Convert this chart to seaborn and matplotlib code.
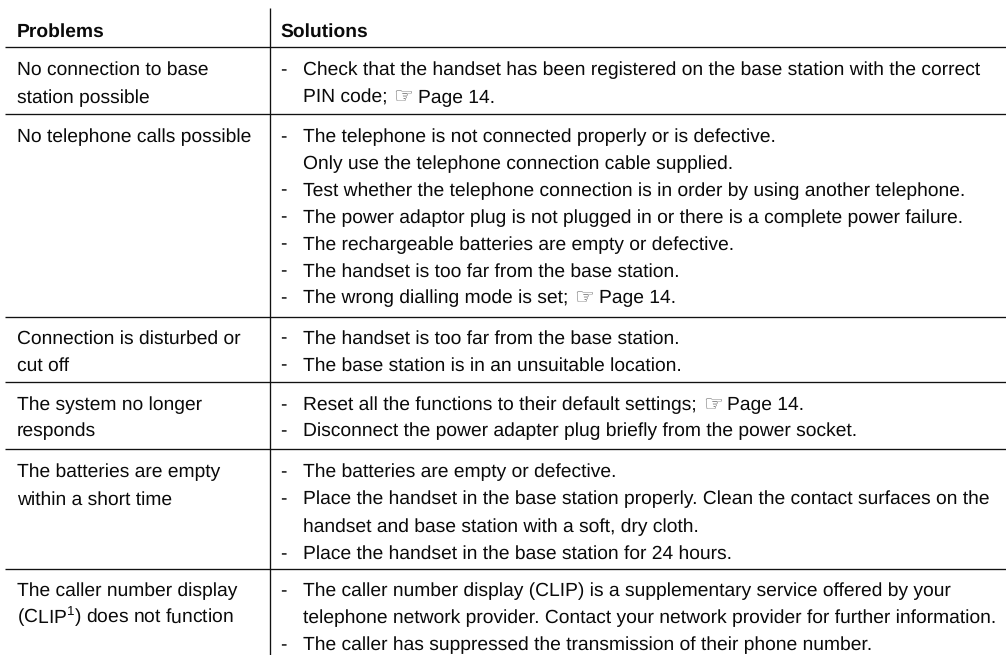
import matplotlib
matplotlib.use("Agg")
import matplotlib.pyplot as plt
import seaborn as sns

HAND = "\u261e"

headers = ["Problems", "Solutions"]

problems = [
    ["No connection to base", "station possible"],
    ["No telephone calls possible"],
    ["Connection is disturbed or", "cut off"],
    ["The system no longer", "responds"],
    ["The batteries are empty", "within a short time"],
    ["The caller number display", "(CLIP$^{1}$) does not function"],
]

# A leading "- " marks a bullet line, otherwise the line continues the bullet above.
solutions = [
    ["- Check that the handset has been registered on the base station with the correct",
     f"PIN code; {HAND} Page 14."],
    ["- The telephone is not connected properly or is defective.",
     "Only use the telephone connection cable supplied.",
     "- Test whether the telephone connection is in order by using another telephone.",
     "- The power adaptor plug is not plugged in or there is a complete power failure.",
     "- The rechargeable batteries are empty or defective.",
     "- The handset is too far from the base station.",
     f"- The wrong dialling mode is set; {HAND} Page 14."],
    ["- The handset is too far from the base station.",
     "- The base station is in an unsuitable location."],
    [f"- Reset all the functions to their default settings; {HAND} Page 14.",
     "- Disconnect the power adapter plug briefly from the power socket."],
    ["- The batteries are empty or defective.",
     "- Place the handset in the base station properly. Clean the contact surfaces on the",
     "handset and base station with a soft, dry cloth.",
     "- Place the handset in the base station for 24 hours."],
    ["- The caller number display (CLIP) is a supplementary service offered by your",
     "telephone network provider. Contact your network provider for further information.",
     "- The caller has suppressed the transmission of their phone number."],
]

# layout (pixels of the page)
rule_y = [47, 114, 316.5, 382, 449, 569]
first_offset = [28, 28, 27, 28, 28, 27]
line_step = [27.6, 26.9, 27, 26.5, 27.4, 27.2]
x_problem, x_dash, x_text, x_rule = 17, 280, 303, 270
fs = 13.85
ink = "#0a0a0a"
font = "Liberation Sans"

sns.set_theme(style="white")
plt.rcParams.update({
    "font.family": [font, "DejaVu Sans"],
    "mathtext.fontset": "custom",
    "mathtext.rm": font,
    "mathtext.default": "regular",
    "text.hinting": "no_hinting",
})

fig = plt.figure(figsize=(10.06, 6.55), dpi=100)
ax = fig.add_axes([0, 0, 1, 1])
ax.set_xlim(0, 1006)
ax.set_ylim(655, 0)
ax.axis("off")

ax.hlines(rule_y, 5, 1006, color="#111111", lw=0.95)
ax.vlines(x_rule, 8, 655, color="#111111", lw=0.95)


def put(x, y, s, **kw):
    kw.setdefault("fontsize", fs)
    return ax.text(x, y, s, va="baseline", ha="left", color=ink, **kw)


def put_line(x, y, s):
    """Write one line; the pointing hand is drawn lighter than the text."""
    if HAND not in s:
        return put(x, y, s)
    left, right = s.split(HAND)
    t = put(x, y, left.rstrip())
    r = fig.canvas.get_renderer()
    end = ax.transData.inverted().transform(t.get_window_extent(r))[1][0]
    h = ax.text(end + 6, y + 1, HAND, va="baseline", ha="left", color="#555555",
                fontsize=fs * 1.15, family="DejaVu Sans")
    hand_end = ax.transData.inverted().transform(h.get_window_extent(r))[1][0]
    put(hand_end + 5, y, right.strip())


put(x_problem, 37, headers[0], fontweight="bold")
put(x_dash, 37, headers[1], fontweight="bold")

for top, off, step, prob, sol in zip(rule_y, first_offset, line_step, problems, solutions):
    base = top + off
    for i, line in enumerate(prob):
        put(x_problem, base + i * step, line)
    for i, line in enumerate(sol):
        y = base + i * step
        if line.startswith("- "):
            put(x_dash, y, "-")
            line = line[2:]
        put_line(x_text, y, line)

fig.savefig("out.png", dpi=100)
